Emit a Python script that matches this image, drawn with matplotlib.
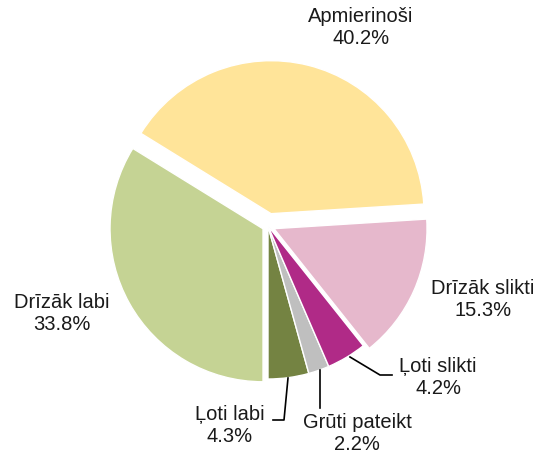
import matplotlib.pyplot as plt

plt.rcParams['font.family'] = ['Liberation Sans', 'DejaVu Sans']

labels = ['Ļoti labi', 'Grūti pateikt', 'Ļoti slikti', 'Drīzāk slikti', 'Apmierinoši', 'Drīzāk labi']
values = [4.3, 2.2, 4.2, 15.3, 40.2, 33.8]
colors = ['#748342', '#bfbfbf', '#b02a87', '#e6b8cc', '#ffe499', '#c5d394']

W, H = 541, 454
fig = plt.figure(figsize=(W / 100, H / 100), dpi=100)
ax = fig.add_axes([0, 0, 1, 1])
ax.set_xlim(0, W)
ax.set_ylim(0, H)
ax.set_aspect('equal')
ax.axis('off')

cx, cy, r = 268, H - 226, 153
explode = [0, 0, 0, 6.6, 12.7, 5.7]
ax.pie(values, colors=colors, startangle=-90, counterclock=True, center=(cx, cy),
       radius=r, explode=explode, frame=True,
       wedgeprops=dict(edgecolor='white', linewidth=1))
ax.set_xlim(0, W)
ax.set_ylim(0, H)
ax.axis('off')

# label positions in image pixels (x, y from top)
label_pos = [(230, 425), (357, 433), (438, 377), (483, 300), (361, 28), (62, 314)]
for lab, v, (x, y) in zip(labels, values, label_pos):
    ax.text(x, H - y, f'{lab}\n{v:.1f}%', ha='center', va='center', fontsize=14.5,
            color='#1a1a1a', linespacing=1.2)

# leader lines for the small slices
leaders = [
    [(288, 378), (284, 420), (273, 420)],
    [(320, 370), (320, 408)],
    [(350, 357), (380, 375), (392, 375)],
]
for pts in leaders:
    xs = [p[0] for p in pts]
    ys = [H - p[1] for p in pts]
    ax.plot(xs, ys, color='black', linewidth=1.2)

fig.savefig('out.png', dpi=100)
